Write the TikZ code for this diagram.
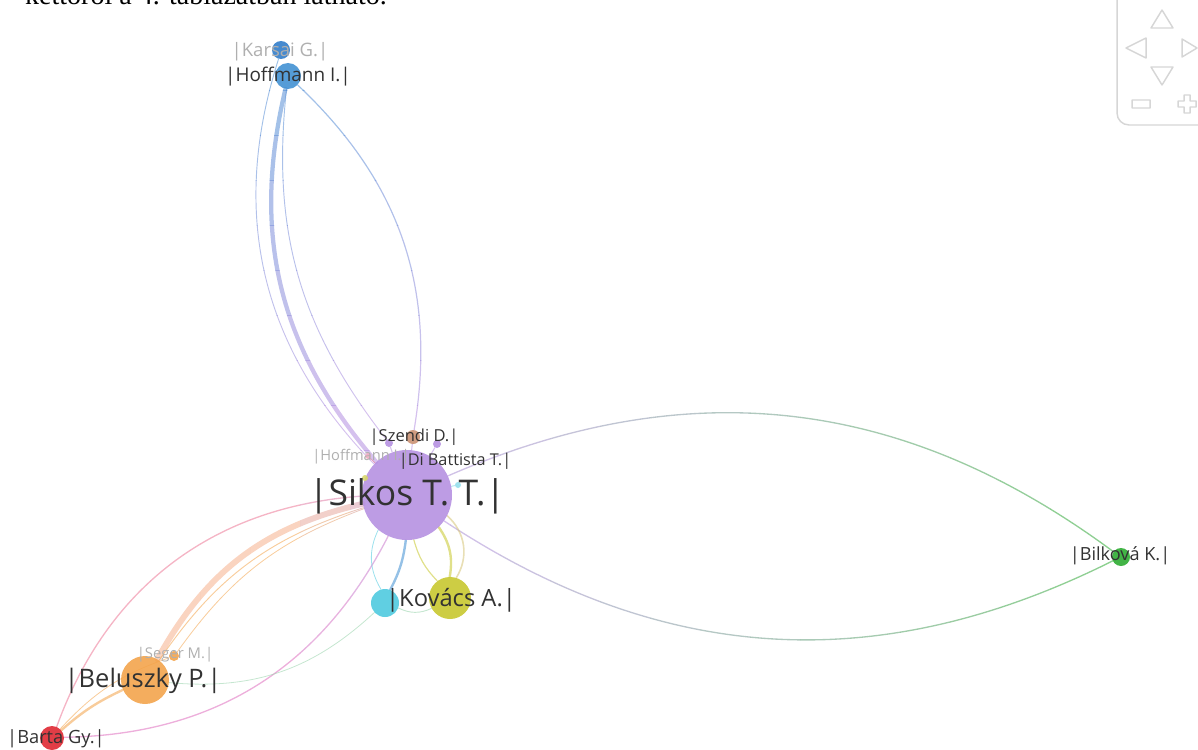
\documentclass[tikz,border=0pt]{standalone}
\usepackage{fontspec}
\setmainfont{Liberation Serif}
\newfontfamily\namefont{Open Sans}
\usetikzlibrary{backgrounds}
\definecolor{sikospurple}{RGB}{180,142,224}
\definecolor{hoffblue}{RGB}{62,142,210}
\definecolor{karsaiblue}{RGB}{44,122,200}
\definecolor{szendibrown}{RGB}{200,142,112}
\definecolor{kovacsyellow}{RGB}{198,198,42}
\definecolor{kovacscyan}{RGB}{74,200,222}
\definecolor{belorange}{RGB}{243,162,72}
\definecolor{bartared}{RGB}{222,34,44}
\definecolor{bilkgreen}{RGB}{40,170,44}
\definecolor{linkpink}{RGB}{236,120,150}
\definecolor{linkpeach}{RGB}{245,176,140}
\definecolor{linkmagenta}{RGB}{222,110,190}
\definecolor{linkgreen}{RGB}{150,210,170}
\definecolor{linktan}{RGB}{214,196,120}
\definecolor{namegray}{RGB}{50,50,50}
\definecolor{fadegray}{RGB}{175,175,175}
\definecolor{navgray}{RGB}{214,214,214}

\begin{document}
\begin{tikzpicture}[x=0.75pt, y=-0.75pt,
  author/.style={circle, inner sep=0pt, draw=none, fill=#1, fill opacity=0.88},
  authorname/.style={text=namegray, inner sep=0pt, font=\namefont\fontsize{#1}{#1}\selectfont},
  faded/.style={text=fadegray},
  link/.style={line width=#1, draw opacity=0.55, line cap=round}]
  \useasboundingbox (0,0) rectangle (1198,749);
  \clip (0,0) rectangle (1198,749);

  % text line cut at the top
  \node[anchor=base east, inner sep=0pt, font=\fontsize{21}{21}\selectfont] (caption) at (387,5) {kettőről a 4. táblázatban látható.};

  % view controls
  \draw[navgray, line width=1.1pt, rounded corners=9pt] (1117,-20) rectangle (1240,125);
  \draw[navgray, line width=1.1pt, line join=round]
    (1162,10) -- (1173,28) -- (1151,28) -- cycle
    (1126,48) -- (1146,38) -- (1146,58) -- cycle
    (1197,48) -- (1182,39) -- (1182,57) -- cycle
    (1162,85) -- (1151,67) -- (1173,67) -- cycle
    (1132,100) rectangle (1150,108)
    (1184,95) -- (1190,95) -- (1190,101) -- (1196,101) -- (1196,107) -- (1190,107) -- (1190,113)
      -- (1184,113) -- (1184,107) -- (1178,107) -- (1178,101) -- (1184,101) -- cycle;

  % authors
  \node[author=sikospurple, minimum size=67.5pt] (sikos) at (407,495) {};
  \node[author=hoffblue, minimum size=19.5pt] (hoffmann) at (288,76) {};
  \node[author=karsaiblue, minimum size=13.5pt] (karsai) at (281,50) {};
  \node[author=szendibrown, minimum size=10.5pt] (szendi) at (413,437) {};
  \node[author=sikospurple, minimum size=6pt] (dibattista) at (437,444) {};
  \node[author=sikospurple, minimum size=6pt] (purpledot) at (389,443) {};
  \node[author=linkpink!60, minimum size=4.5pt] (hoffsmall) at (368,456) {};
  \node[author=kovacscyan!60, minimum size=4.5pt] (bluedot) at (458,485) {};
  \node[author=kovacsyellow!70, minimum size=4.5pt] (yellowdot) at (365,478) {};
  \node[author=kovacsyellow, minimum size=31.5pt] (kovacs) at (450,598) {};
  \node[author=kovacscyan, minimum size=21pt] (cyan) at (385,603) {};
  \node[author=belorange, minimum size=36pt] (beluszky) at (145,680) {};
  \node[author=belorange, minimum size=7.5pt] (seger) at (174,656) {};
  \node[author=bartared, minimum size=18pt] (barta) at (52,738) {};
  \node[author=bilkgreen, minimum size=13.5pt] (bilkova) at (1121,557) {};

  \begin{scope}[on background layer]
    % arcs to the top, blue fading into purple
    \foreach \k in {0,...,11} {
      \pgfmathtruncatemacro\mix{max(0,100-\k*11)}
      \begin{scope}
        \clip (0,\k*45) rectangle (1198,\k*45+45);
        \draw[link=0.7pt, hoffblue!\mix!sikospurple] (karsai) to[bend right=31] (sikos);
        \draw[link=3.2pt, hoffblue!\mix!sikospurple] (hoffmann) to[bend right=27] (sikos);
        \draw[link=0.7pt, hoffblue!\mix!sikospurple] (hoffmann) to[bend right=22] (purpledot);
        \draw[link=0.9pt, hoffblue!\mix!sikospurple] (hoffmann) to[bend left=28] (szendi);
      \end{scope}
    }
    % arcs to the right, purple fading into green
    \foreach \k in {0,...,15} {
      \pgfmathtruncatemacro\mix{min(100,\k*7)}
      \begin{scope}
        \clip (400+\k*50,0) rectangle (450+\k*50,749);
        \draw[link=1pt, bilkgreen!\mix!sikospurple] (sikos) to[bend left=30] (bilkova);
        \draw[link=1pt, bilkgreen!\mix!sikospurple] (sikos) to[bend right=30] (bilkova);
      \end{scope}
    }
    % arcs to the lower left, purple fading into orange and red
    \foreach \k in {0,...,9} {
      \pgfmathtruncatemacro\mix{max(0,(\k-5)*22)}
      \begin{scope}
        \clip (\k*50,0) rectangle (\k*50+50,749);
        \draw[link=4.4pt, sikospurple!\mix!linkpeach] (sikos) to[bend right=24] (beluszky);
        \draw[link=0.7pt, sikospurple!\mix!belorange] (sikos) to[bend right=19] (beluszky);
        \draw[link=0.6pt, sikospurple!\mix!belorange] (sikos) to[bend right=17] (seger);
        \draw[link=1pt, sikospurple!\mix!linkpink] (sikos) to[bend right=33] (barta);
        \draw[link=1pt, sikospurple!\mix!linkmagenta] (sikos) to[bend left=31] (barta);
      \end{scope}
    }
    % short links round the middle
    \foreach \a/\b/\bend/\w/\c in {sikos/kovacs/40/1.2/linktan, sikos/kovacs/22/1.8/kovacsyellow,
        sikos/kovacs/-14/0.9/kovacsyellow, sikos/cyan/10/1.8/hoffblue, sikos/cyan/-28/0.6/kovacscyan,
        cyan/kovacs/-25/0.7/linkgreen, cyan/beluszky/24/0.6/linkgreen, beluszky/barta/-8/1.8/belorange,
        seger/barta/-14/0.6/belorange, sikos/szendi/0/0.8/sikospurple, sikos/dibattista/0/0.8/sikospurple,
        sikos/purpledot/0/0.8/sikospurple, sikos/hoffsmall/0/0.6/linkpink, sikos/bluedot/0/0.6/kovacscyan,
        sikos/yellowdot/0/0.6/kovacsyellow}
      \draw[link=\w pt, \c] (\a) to[bend left=\bend] (\b);
  \end{scope}

  % names
  \node[authorname=11pt, faded] (hoffsmalllbl) at (361,457) {|Hoffmann I.|};
  \node[authorname=11.1pt, faded] (segerlbl) at (175,655) {|Seger M.|};
  \node[authorname=13.9pt, faded] (karsailbl) at (280,52) {|Karsai G.|};
  \node[authorname=14.2pt] (hoffmannlbl) at (288,77) {|Hoffmann I.|};
  \node[authorname=12.4pt] (szendilbl) at (414,437) {|Szendi D.|};
  \node[authorname=12.2pt] (dibattistalbl) at (455,461) {|Di Battista T.|};
  \node[authorname=26.6pt] (sikoslbl) at (407,496) {|Sikos T. T.|};
  \node[authorname=17.8pt] (kovacslbl) at (451,600) {|Kovács A.|};
  \node[authorname=19.1pt] (beluszkylbl) at (143,681) {|Beluszky P.|};
  \node[authorname=13.7pt] (bartalbl) at (56,739) {|Barta Gy.|};
  \node[authorname=13.6pt] (bilkovalbl) at (1120,556) {|Bilková K.|};
\end{tikzpicture}
\end{document}
